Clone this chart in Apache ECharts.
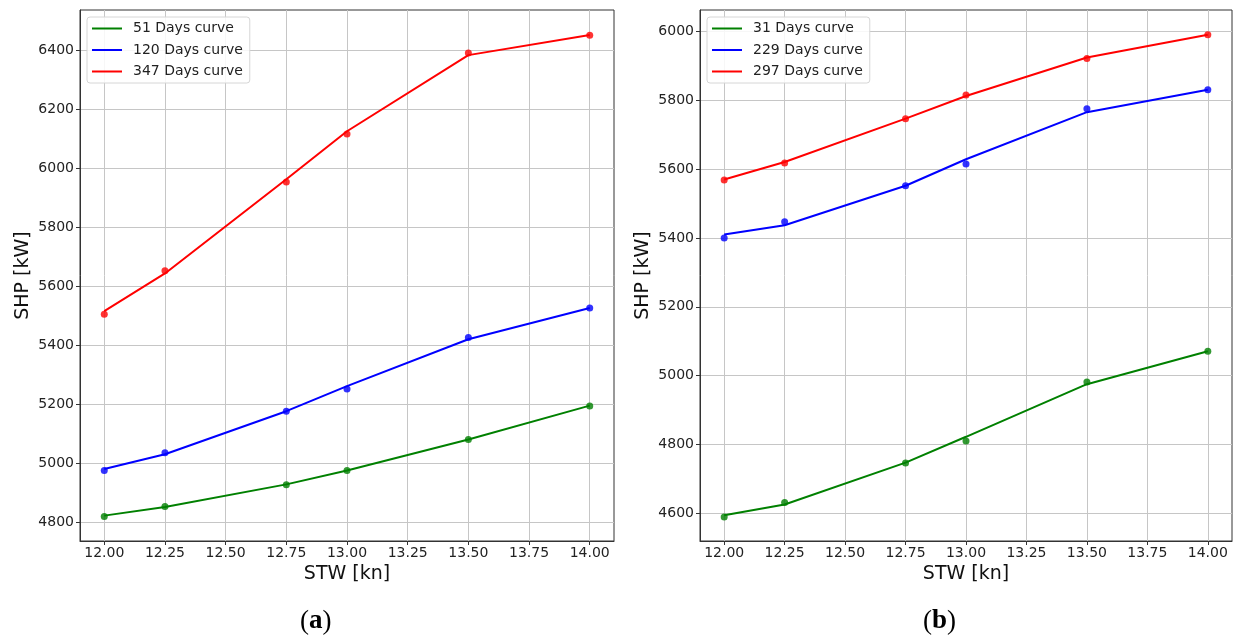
<!DOCTYPE html>
<html>
<head>
<meta charset="utf-8">
<title>SHP vs STW curves</title>
<script src="https://cdn.jsdelivr.net/npm/echarts@6/dist/echarts.min.js"></script>
<style>
  html, body { margin: 0; padding: 0; background: #fff; }
  #chart { width: 1234px; height: 639px; }
</style>
</head>
<body>
<div id="chart"></div>
<script>
// Speed through water (knots) at which power was sampled
const stw = [12.00, 12.25, 12.75, 13.00, 13.50, 14.00];

// Tick values
const xTicks = [12.00, 12.25, 12.50, 12.75, 13.00, 13.25, 13.50, 13.75, 14.00];
const yTicksA = [4800, 5000, 5200, 5400, 5600, 5800, 6000, 6200, 6400];
const yTicksB = [4600, 4800, 5000, 5200, 5400, 5600, 5800, 6000];

// Panel (a): measured points and fitted curves, SHP in kW
const namesA = ['51 Days curve', '120 Days curve', '347 Days curve'];
const a51Pts   = [4819, 4853, 4927, 4975, 5080, 5194];
const a51Fit   = [4822, 4851, 4928, 4975, 5080, 5195];
const a120Pts  = [4975, 5035, 5176, 5251, 5426, 5526];
const a120Fit  = [4980, 5030, 5176, 5261, 5420, 5526];
const a347Pts  = [5505, 5652, 5953, 6116, 6390, 6450];
const a347Fit  = [5515, 5643, 5962, 6125, 6383, 6451];

// Panel (b)
const namesB = ['31 Days curve', '229 Days curve', '297 Days curve'];
const b31Pts   = [4589, 4631, 4746, 4810, 4981, 5071];
const b31Fit   = [4594, 4625, 4747, 4822, 4975, 5071];
const b229Pts  = [5400, 5447, 5552, 5615, 5776, 5831];
const b229Fit  = [5410, 5437, 5552, 5629, 5766, 5831];
const b297Pts  = [5569, 5618, 5747, 5816, 5922, 5991];
const b297Fit  = [5570, 5621, 5747, 5813, 5925, 5991];

const colors = ['#008000', '#0000ff', '#ff0000'];

const pair = (xs, ys) => xs.map((x, i) => [x, ys[i]]);

const tickFont = { fontFamily: 'DejaVu Sans', fontSize: 14, color: '#222' };
const nameFont = { fontFamily: 'DejaVu Sans', fontSize: 19, color: '#111' };
const gridColor = '#c6c6c6';

function xAxisFor(gridIndex) {
  return {
    type: 'value', gridIndex, min: 11.9, max: 14.1,
    name: 'STW [kn]', nameLocation: 'middle', nameGap: 24,
    nameTextStyle: nameFont,
    axisLine: { show: true, lineStyle: { color: '#333', width: 1 } },
    axisTick: { show: true, length: 4, lineStyle: { color: '#333' }, customValues: xTicks },
    axisLabel: Object.assign({ margin: 5, customValues: xTicks,
      formatter: v => v.toFixed(2) }, tickFont),
    splitLine: { show: true, lineStyle: { color: gridColor, width: 1 } }
  };
}

function yAxisFor(gridIndex, min, max, ticks) {
  return {
    type: 'value', gridIndex, min, max,
    name: 'SHP [kW]', nameLocation: 'middle', nameGap: 47,
    nameTextStyle: nameFont,
    axisLine: { show: true, lineStyle: { color: '#333', width: 1 } },
    axisTick: { show: true, length: 4, lineStyle: { color: '#333' }, customValues: ticks },
    axisLabel: Object.assign({ margin: 6, customValues: ticks,
      formatter: v => String(Math.round(v)) }, tickFont),
    splitLine: { show: true, lineStyle: { color: gridColor, width: 1 } }
  };
}

function panelSeries(idx, names, pts, fits) {
  const out = [];
  names.forEach((name, i) => {
    out.push({
      type: 'line', name, xAxisIndex: idx, yAxisIndex: idx,
      data: pair(stw, fits[i]), symbol: 'none',
      lineStyle: { color: colors[i], width: 2 }, itemStyle: { color: colors[i] },
      z: 3
    });
    out.push({
      type: 'scatter', name: name + ' data', xAxisIndex: idx, yAxisIndex: idx,
      data: pair(stw, pts[i]), symbol: 'circle', symbolSize: 7,
      itemStyle: { color: colors[i] }, z: 4
    });
  });
  return out;
}

function legendFor(left, names) {
  return {
    left, top: 17, orient: 'vertical',
    data: names.map((n, i) => ({ name: n, icon: 'rect', itemStyle: { color: colors[i] } })),
    itemWidth: 30, itemHeight: 2, itemGap: 4.5,
    padding: [3, 7, 3, 5],
    backgroundColor: 'rgba(255,255,255,0.85)',
    borderColor: '#d6d6d6', borderWidth: 1, borderRadius: 3,
    textStyle: { fontFamily: 'DejaVu Sans', fontSize: 14, color: '#222',
      lineHeight: 17, padding: [0, 0, 0, 6] },
    selectedMode: false
  };
}

function caption(cx, letter) {
  return {
    type: 'text', left: cx - 17, top: 608,
    style: {
      text: '{p|(}{b|' + letter + '}{p|)}',
      rich: {
        p: { fontFamily: 'Liberation Serif', fontSize: 27, fill: '#000' },
        b: { fontFamily: 'Liberation Serif', fontSize: 27, fontWeight: 'bold', fill: '#000' }
      }
    }
  };
}

const chart = echarts.init(document.getElementById('chart'), null, { renderer: 'canvas' });
chart.setOption({
  animation: false,
  backgroundColor: '#fff',
  grid: [
    { left: 80, top: 10, width: 534, height: 531, show: true, borderColor: '#333', borderWidth: 1, backgroundColor: 'transparent' },
    { left: 700, top: 10, width: 532, height: 531, show: true, borderColor: '#333', borderWidth: 1, backgroundColor: 'transparent' }
  ],
  xAxis: [xAxisFor(0), xAxisFor(1)],
  yAxis: [yAxisFor(0, 4736, 6536, yTicksA), yAxisFor(1, 4519, 6063, yTicksB)],
  legend: [legendFor(87, namesA), legendFor(707, namesB)],
  series: [].concat(
    panelSeries(0, namesA, [a51Pts, a120Pts, a347Pts], [a51Fit, a120Fit, a347Fit]),
    panelSeries(1, namesB, [b31Pts, b229Pts, b297Pts], [b31Fit, b229Fit, b297Fit])
  ),
  graphic: [caption(317, 'a'), caption(940, 'b')]
});
</script>
</body>
</html>
